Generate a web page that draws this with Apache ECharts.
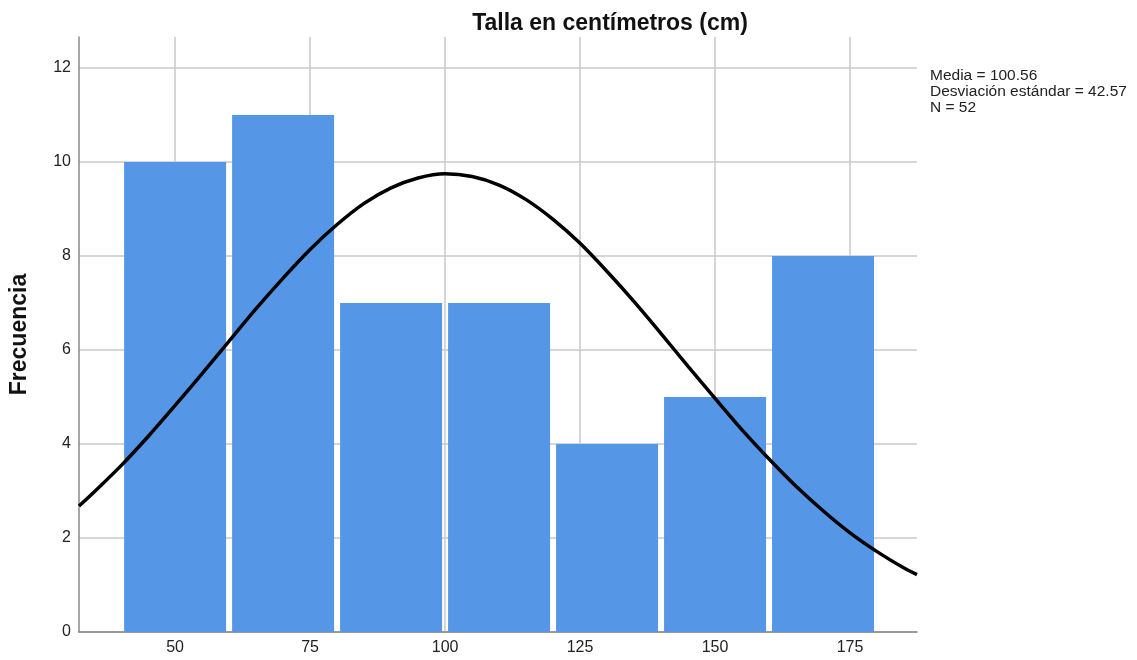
<!DOCTYPE html>
<html><head><meta charset="utf-8">
<script src="https://cdn.jsdelivr.net/npm/echarts@6/dist/echarts.min.js"></script>
<style>html,body{margin:0;padding:0;background:#fff}#c{width:1137px;height:660px}</style>
</head><body><div id="c"></div>
<script>
const binStarts = [40, 60, 80, 100, 120, 140, 160];
const binEnds   = [60, 80, 100, 120, 140, 160, 180];
const freqs     = [10, 11, 7, 7, 4, 5, 8];
const xTicks    = [50, 75, 100, 125, 150, 175];
const yTicks    = [0, 2, 4, 6, 8, 10, 12];
const curveX = [32.2, 35, 40, 45, 50, 55, 60, 65, 70, 75, 80, 85, 90, 95, 100, 105, 110, 115, 120, 125, 130, 135, 140, 145, 150, 155, 160, 165, 170, 175, 180, 185, 187.4];
const curveY = [2.68, 2.98, 3.54, 4.16, 4.82, 5.50, 6.19, 6.88, 7.53, 8.14, 8.67, 9.12, 9.45, 9.66, 9.75, 9.69, 9.51, 9.20, 8.78, 8.27, 7.67, 7.03, 6.35, 5.65, 4.97, 4.30, 3.68, 3.10, 2.58, 2.11, 1.71, 1.36, 1.22];
const statsLines = ['Media = 100.56', 'Desviación estándar = 42.57', 'N = 52'];

const chart = echarts.init(document.getElementById('c'), null, {renderer: 'canvas'});
const font = 'Liberation Sans, Arial, sans-serif';
chart.setOption({
  animation: false,
  title: {
    text: 'Talla en centímetros (cm)', left: 605, top: 7, textAlign: 'center',
    textStyle: {fontFamily: font, fontSize: 23, fontWeight: 'bold', color: '#111'}
  },
  graphic: [{
    type: 'text', left: 930, top: 68,
    style: {text: statsLines.join('\n'), font: '15.5px ' + font, lineHeight: 16, fill: '#222'}
  }],
  grid: {left: 77, right: 220, top: 37, bottom: 28, containLabel: false},
  xAxis: {
    type: 'value', min: 32.2, max: 187.4,
    axisLine: {show: true, lineStyle: {color: '#888', width: 1.5}},
    axisTick: {show: false, customValues: xTicks},
    axisLabel: {customValues: xTicks, fontFamily: font, fontSize: 16, color: '#222', margin: 8},
    splitLine: {show: true, lineStyle: {color: '#c8c8c8', width: 1.5}}
  },
  yAxis: {
    type: 'value', min: 0, max: 12.66,
    name: 'Frecuencia', nameLocation: 'middle', nameGap: 48, nameRotate: 90,
    nameTextStyle: {fontFamily: font, fontSize: 23, fontWeight: 'bold', color: '#111'},
    axisLine: {show: true, lineStyle: {color: '#888', width: 1.5}},
    axisTick: {show: false, customValues: yTicks},
    axisLabel: {customValues: yTicks, fontFamily: font, fontSize: 16, color: '#222', margin: 8},
    splitLine: {show: true, lineStyle: {color: '#c8c8c8', width: 1.5}}
  },
  series: [{
    type: 'custom',
    data: binStarts.map((s, i) => [s, binEnds[i], freqs[i]]),
    encode: {x: [0, 1], y: 2},
    renderItem: function (params, api) {
      const p0 = api.coord([api.value(0), 0]);
      const p1 = api.coord([api.value(1), api.value(2)]);
      return {
        type: 'rect',
        shape: {x: p0[0] + 3, y: p1[1], width: p1[0] - p0[0] - 6, height: p0[1] - p1[1]},
        style: {fill: '#5596e6'}
      };
    },
    z: 2
  }, {
    type: 'line',
    data: curveX.map((x, i) => [x, curveY[i]]),
    smooth: 0.3, showSymbol: false, symbol: 'none',
    lineStyle: {color: '#000', width: 3.5},
    clip: true, z: 3
  }]
});
</script></body></html>
